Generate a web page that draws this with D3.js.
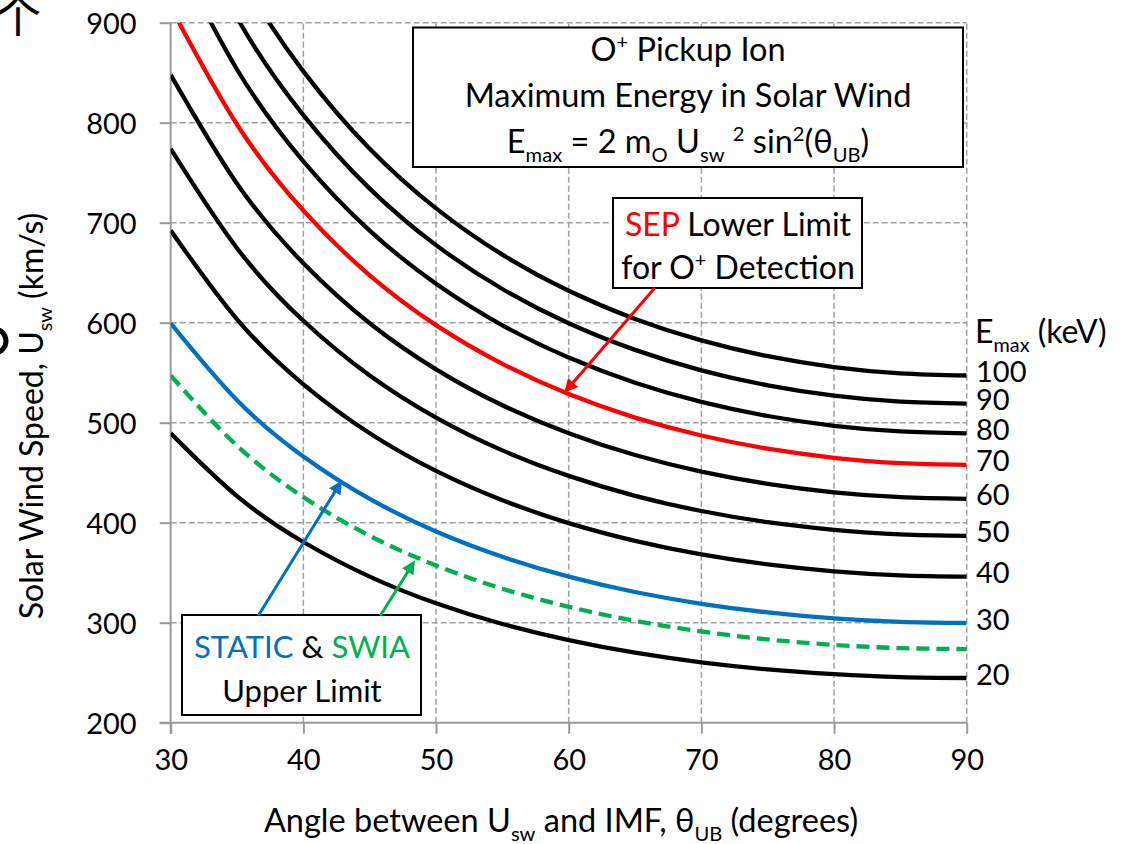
<!DOCTYPE html>
<html><head><meta charset="utf-8">
<script src="https://cdn.jsdelivr.net/npm/d3@7"></script>
<style>body{margin:0;background:#fff}svg{display:block}text{font-family:Lato,"Noto Sans",sans-serif;fill:#000}</style>
</head><body><svg id="c" width="1132" height="844"></svg>
<script>
// ---- data ----
const angles = [30,35,40,45,50,55,60,65,70,75,80,85,90];
const e20  = [489.4,426.6,380.7,346.1,319.4,298.7,282.6,270.0,260.4,253.3,248.5,245.6,244.7];
const e25  = [547.2,477.0,425.6,386.9,357.2,334.0,315.9,301.9,291.2,283.3,277.8,274.6,273.6];
const e30  = [599.4,522.5,466.2,423.8,391.2,365.9,346.1,330.7,318.9,310.3,304.3,300.8,299.7];
const e40  = [692.2,603.4,538.4,489.5,451.8,422.5,399.6,381.9,368.3,358.3,351.4,347.4,346.1];
const e50  = [773.8,674.5,601.9,547.2,505.1,472.3,446.8,426.9,411.7,400.5,392.9,388.4,386.9];
const e60  = [847.8,739.0,659.5,599.5,553.4,517.5,489.5,467.7,451.1,438.9,430.4,425.5,423.9];
const e70  = [915.6,798.2,712.2,647.4,597.6,558.9,528.6,505.1,487.2,474.0,464.9,459.5,457.8];
const e80  = [978.8,853.2,761.4,692.1,638.9,597.4,565.1,540.0,520.8,506.7,496.9,491.3,489.4];
const e90  = [1038.2,905.0,807.6,734.1,677.6,633.7,599.4,572.8,552.4,537.4,527.1,521.1,519.1];
const e100 = [1094.4,954.0,851.3,773.9,714.3,668.0,631.9,603.8,582.3,566.5,555.6,549.3,547.2];
const xTicks = [30,40,50,60,70,80,90];
const yTicks = [200,300,400,500,600,700,800,900];
const seriesNames = ["20","25","30","40","50","60","70","80","90","100"];
const seriesValues = [e20,e25,e30,e40,e50,e60,e70,e80,e90,e100];
const seriesColors = ["#000","#00b050","#0070c0","#000","#000","#000","#ff0000","#000","#000","#000"];
const seriesDash = [null,"13,7",null,null,null,null,null,null,null,null];
const labeled = ["100","90","80","70","60","50","40","30","20"];
const labelColors = {"70":"#ff0000","30":"#0070c0"};
// annotation arrows in data coords [theta0,U0,theta1,U1]
const arrowRed   = [66.5,635,59.8,532];
const arrowBlue  = [36.6,307,42.8,440];
const arrowGreen = [45.8,307,48.3,360];

const svg = d3.select("#c");
const x = d3.scaleLinear().domain([30,90]).range([170.7,966.7]);
const y = d3.scaleLinear().domain([200,900]).range([722.7,22.7]);

// stray fragments at left edge (cropped neighbouring content)
svg.append("text").attr("x",18).attr("y",32).attr("text-anchor","middle")
  .style("font-family","'Noto Sans CJK SC'").style("font-size","46px").text("个");
svg.append("circle").attr("cx",-6).attr("cy",341).attr("r",12).attr("fill","none").attr("stroke","#000").attr("stroke-width",5);

// grid
const grid = svg.append("g");
grid.selectAll("line.h").data(yTicks.filter(d=>d>200)).join("line")
  .attr("x1",x(30)).attr("x2",x(90)).attr("y1",d=>y(d)).attr("y2",d=>y(d))
  .attr("stroke","#a0a0a0").attr("stroke-width",1.5).attr("stroke-dasharray","6,3");
grid.selectAll("line.v").data(xTicks.filter(d=>d>30)).join("line")
  .attr("y1",y(200)).attr("y2",y(900)).attr("x1",d=>x(d)).attr("x2",d=>x(d))
  .attr("stroke","#a0a0a0").attr("stroke-width",1.5).attr("stroke-dasharray","6,3");

// axes
const xAxis = svg.append("g").attr("transform",`translate(0,${y(200)})`)
  .call(d3.axisBottom(x).tickValues(xTicks).tickSize(11).tickPadding(16).tickSizeOuter(0));
const yAxis = svg.append("g").attr("transform",`translate(${x(30)},0)`)
  .call(d3.axisLeft(y).tickValues(yTicks).tickSize(11).tickPadding(23).tickSizeOuter(0));
[xAxis,yAxis].forEach(a=>{
  a.select(".domain").attr("stroke","#999").attr("stroke-width",2);
  a.selectAll(".tick line").attr("stroke","#999").attr("stroke-width",2);
  a.selectAll(".tick text").style("font-size","29px").style("font-family","Lato").attr("fill","#000");
});
xAxis.select(".domain").attr("d",`M${x(30)-11},0H${x(90)}`);
yAxis.select(".domain").attr("d",`M0,${y(900)}V${y(200)+11}`);
yAxis.selectAll(".tick text").attr("dy","0.36em");

// clip
svg.append("clipPath").attr("id","clip").append("rect")
  .attr("x",x(30)).attr("y",y(900)).attr("width",x(90)-x(30)).attr("height",y(200)-y(900));

// curves
const line = d3.line().x((d,i)=>x(angles[i])).y(d=>y(d)).curve(d3.curveNatural);
svg.append("g").attr("clip-path","url(#clip)").selectAll("path").data(seriesValues).join("path")
  .attr("d",d=>line(d)).attr("fill","none")
  .attr("stroke",(d,i)=>seriesColors[i]).attr("stroke-width",4.3)
  .attr("stroke-dasharray",(d,i)=>seriesDash[i]);

// rich text helper
function rich(g,xp,yp,parts,size,anchor){
  const t = g.append("text").attr("x",xp).attr("y",yp).attr("text-anchor",anchor||"middle").style("font-size",size+"px");
  let cur = 0;
  parts.forEach(p=>{
    const s = t.append("tspan").text(p.t);
    let off = 0, fs = size;
    if(p.sub){ off = size*0.28; fs = size*0.62; }
    if(p.sup){ off = -size*0.38; fs = size*0.62; }
    s.attr("dy",off-cur).style("font-size",fs+"px");
    if(p.fill) s.attr("fill",p.fill);
    cur = off;
  });
  return t;
}

// axis titles
rich(svg,561,832,[{t:"Angle between U"},{t:"sw",sub:1},{t:" and IMF, θ"},{t:"UB",sub:1},{t:" (degrees)"}],32.5);
const yt = svg.append("g").attr("transform","translate(43,416) rotate(-90)");
rich(yt,0,0,[{t:"Solar Wind Speed, U"},{t:"sw",sub:1},{t:" (km/s)"}],32);

// right labels
const lastIdx = angles.length-1;
rich(svg,975,343,[{t:"E"},{t:"max",sub:1},{t:" (keV)"}],32,"start");
svg.selectAll("text.elab").data(labeled).join("text").attr("class","elab")
  .attr("x",976).attr("y",d=>y(seriesValues[seriesNames.indexOf(d)][lastIdx])+6.5)
  .style("font-size","29px").attr("fill",d=>labelColors[d]||"#000").text(d=>d);

// boxes
function box(x0,y0,x1,y1){
  svg.append("rect").attr("x",x0).attr("y",y0).attr("width",x1-x0).attr("height",y1-y0)
    .attr("fill","#fff").attr("stroke","#000").attr("stroke-width",2);
}
box(413,27.5,963,167);
rich(svg,688,61,[{t:"O"},{t:"+",sup:1},{t:" Pickup Ion"}],32.5);
rich(svg,688,107,[{t:"Maximum Energy in Solar Wind"}],32.5);
rich(svg,688,153,[{t:"E"},{t:"max",sub:1},{t:" = 2 m"},{t:"O",sub:1},{t:" U"},{t:"sw",sub:1},{t:" "},{t:"2",sup:1},{t:" sin"},{t:"2",sup:1},{t:"(θ"},{t:"UB",sub:1},{t:")"}],32.5);

box(613,198,862,288);
rich(svg,738,236,[{t:"SEP",fill:"#ff0000"},{t:" Lower Limit"}],32);
rich(svg,738,279,[{t:"for O"},{t:"+",sup:1},{t:" Detection"}],32);

box(182,615,421,715);
rich(svg,302,658,[{t:"STATIC",fill:"#0070c0"},{t:" & "},{t:"SWIA",fill:"#00b050"}],31);
rich(svg,302,702,[{t:"Upper Limit"}],31);

// arrows
const defs = svg.append("defs");
[["ar","#ff0000"],["ab","#0070c0"],["ag","#00b050"]].forEach(([id,c])=>{
  defs.append("marker").attr("id",id).attr("viewBox","0 0 10 10").attr("refX",8).attr("refY",5)
    .attr("markerWidth",4.5).attr("markerHeight",4.5).attr("orient","auto")
    .append("path").attr("d","M0,0L10,5L0,10z").attr("fill",c);
});
[[arrowRed,"#ff0000","ar"],[arrowBlue,"#0070c0","ab"],[arrowGreen,"#00b050","ag"]].forEach(([a,c,m])=>{
  svg.append("line").attr("x1",x(a[0])).attr("y1",y(a[1])).attr("x2",x(a[2])).attr("y2",y(a[3]))
    .attr("stroke",c).attr("stroke-width",3).attr("marker-end",`url(#${m})`);
});
</script></body></html>
